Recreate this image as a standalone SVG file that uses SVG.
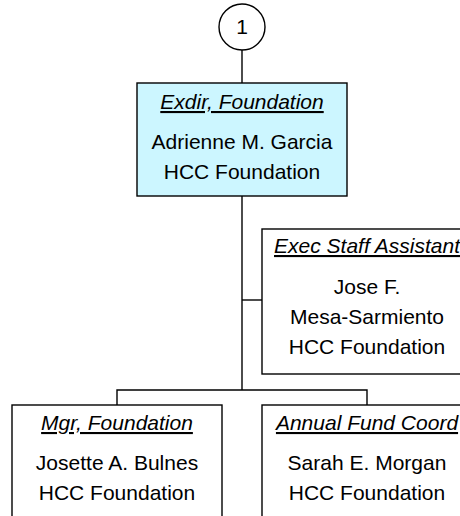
<svg xmlns="http://www.w3.org/2000/svg" width="460" height="516" viewBox="0 0 460 516">
<style>
.box{fill:#fff;stroke:#000;stroke-width:1.4}
.hl{fill:#CCF6FF}
.ln{fill:none;stroke:#000;stroke-width:1.4}
text{font-family:"Liberation Sans",Arial,sans-serif;font-size:21px;fill:#000;text-anchor:middle}
.t{font-style:italic;text-decoration:underline}
</style>
<rect width="460" height="516" fill="#fff"/>
<g id="connectors">
<line class="ln" x1="242" y1="50" x2="242" y2="83"/>
<line class="ln" x1="242" y1="196" x2="242" y2="390"/>
<line class="ln" x1="242" y1="300" x2="262" y2="300"/>
<polyline class="ln" points="117,405 117,390 367,390 367,405"/>
</g>
<g id="offpage-1">
<circle class="box" cx="242" cy="27" r="23"/>
<text x="242" y="34">1</text>
</g>
<g id="exdir">
<rect class="box hl" x="137" y="83" width="210" height="113"/>
<text class="t" x="242" y="109">Exdir, Foundation</text>
<text x="242" y="149">Adrienne M. Garcia</text>
<text x="242" y="179">HCC Foundation</text>
</g>
<g id="exec-staff">
<rect class="box" x="262" y="229" width="210" height="145"/>
<text class="t" x="367" y="253">Exec Staff Assistant</text>
<text x="367" y="294">Jose F.</text>
<text x="367" y="324">Mesa-Sarmiento</text>
<text x="367" y="354">HCC Foundation</text>
</g>
<g id="mgr">
<rect class="box" x="12" y="405" width="210" height="130"/>
<text class="t" x="117" y="430">Mgr, Foundation</text>
<text x="117" y="470">Josette A. Bulnes</text>
<text x="117" y="500">HCC Foundation</text>
</g>
<g id="annual-fund">
<rect class="box" x="262" y="405" width="210" height="130"/>
<text class="t" x="367" y="430">Annual Fund Coord</text>
<text x="367" y="470">Sarah E. Morgan</text>
<text x="367" y="500">HCC Foundation</text>
</g>
</svg>
